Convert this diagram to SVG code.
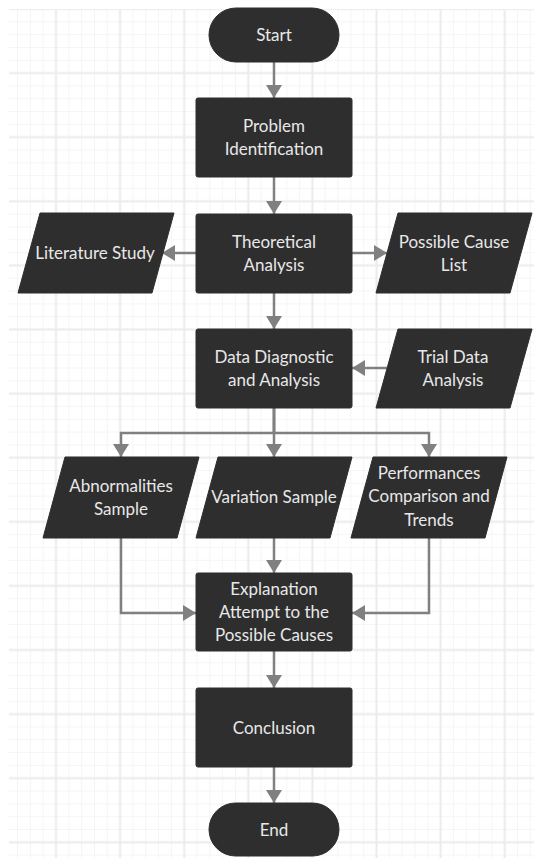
<svg xmlns="http://www.w3.org/2000/svg" width="534" height="858" viewBox="0 0 534 858">
<defs>
<pattern id="grid" patternUnits="userSpaceOnUse" x="23.95" y="-23.05" width="64.1" height="64.1">
<g stroke="#f5f5f5" stroke-width="1">
<line x1="6.41" y1="0" x2="6.41" y2="64.1"/><line x1="19.23" y1="0" x2="19.23" y2="64.1"/><line x1="44.87" y1="0" x2="44.87" y2="64.1"/><line x1="57.69" y1="0" x2="57.69" y2="64.1"/>
<line y1="6.41" x1="0" y2="6.41" x2="64.1"/><line y1="19.23" x1="0" y2="19.23" x2="64.1"/><line y1="44.87" x1="0" y2="44.87" x2="64.1"/><line y1="57.69" x1="0" y2="57.69" x2="64.1"/>
</g>
<g stroke="#ebebeb" stroke-width="2">
<line x1="32.05" y1="0" x2="32.05" y2="64.1"/><line y1="32.05" x1="0" y2="32.05" x2="64.1"/>
</g>
</pattern>
<marker id="arr" viewBox="0 0 13 16" refX="13" refY="8" markerWidth="13" markerHeight="16" markerUnits="userSpaceOnUse" orient="auto">
<path d="M0,0 L13,8 L0,16 z" fill="#808080"/>
</marker>
<style>
.n{fill:#2e2e2e;stroke:#2e2e2e;stroke-width:1;stroke-linejoin:round}
.t{fill:#e8e8e8;font-family:Lato,"Liberation Sans",sans-serif;font-size:17px;text-anchor:middle}
.c{fill:none;stroke:#808080;stroke-width:2.5;marker-end:url(#arr)}
</style>
</defs>
<rect x="0" y="0" width="534" height="858" fill="#ffffff"/>
<rect x="9" y="9" width="525" height="849" fill="url(#grid)"/>
<g id="connectors">
<path class="c" d="M274,62 V98"/>
<path class="c" d="M274,177 V214"/>
<path class="c" d="M197,253 H162"/>
<path class="c" d="M352,253 H387"/>
<path class="c" d="M274,293 V329"/>
<path class="c" d="M387,368 H352"/>
<path class="c" d="M274,408 V433 H121 V457"/>
<path class="c" d="M274,408 V457"/>
<path class="c" d="M274,408 V433 H429 V457"/>
<path class="c" d="M121,538 V613 H196"/>
<path class="c" d="M274,538 V573"/>
<path class="c" d="M429,538 V613 H352"/>
<path class="c" d="M274,651 V688"/>
<path class="c" d="M274,767 V803"/>
</g>
<g id="start"><rect class="n" x="209" y="8" width="130" height="54" rx="27"/><text class="t" x="274" y="41">Start</text></g>
<g id="problem"><rect class="n" x="196" y="98" width="156" height="79" rx="2"/><text class="t" x="274" y="132">Problem</text><text class="t" x="274" y="155">Identification</text></g>
<g id="theoretical"><rect class="n" x="196" y="214" width="156" height="79" rx="2"/><text class="t" x="274" y="248">Theoretical</text><text class="t" x="274" y="271">Analysis</text></g>
<g id="literature"><polygon class="n" points="40,213 174,213 152,293 18,293"/><text class="t" x="95" y="259">Literature Study</text></g>
<g id="possible"><polygon class="n" points="398,213 532,213 510,293 376,293"/><text class="t" x="454" y="248">Possible Cause</text><text class="t" x="454" y="271">List</text></g>
<g id="data"><rect class="n" x="196" y="329" width="156" height="79" rx="2"/><text class="t" x="274" y="363">Data Diagnostic</text><text class="t" x="274" y="386">and Analysis</text></g>
<g id="trial"><polygon class="n" points="398,329 532,329 510,408 376,408"/><text class="t" x="453" y="363">Trial Data</text><text class="t" x="453" y="386">Analysis</text></g>
<g id="abnormalities"><polygon class="n" points="65,457 199,457 177,538 43,538"/><text class="t" x="121" y="492">Abnormalities</text><text class="t" x="121" y="515">Sample</text></g>
<g id="variation"><polygon class="n" points="218,457 352,457 330,538 196,538"/><text class="t" x="274" y="503">Variation Sample</text></g>
<g id="performances"><polygon class="n" points="373,457 507,457 485,538 351,538"/><text class="t" x="429" y="479">Performances</text><text class="t" x="429" y="502">Comparison and</text><text class="t" x="429" y="526">Trends</text></g>
<g id="explanation"><rect class="n" x="196" y="573" width="156" height="78" rx="2"/><text class="t" x="274" y="595">Explanation</text><text class="t" x="274" y="618">Attempt to the</text><text class="t" x="274" y="641">Possible Causes</text></g>
<g id="conclusion"><rect class="n" x="196" y="688" width="156" height="79" rx="2"/><text class="t" x="274" y="734">Conclusion</text></g>
<g id="end"><rect class="n" x="209" y="803" width="130" height="53" rx="26.5"/><text class="t" x="274" y="836">End</text></g>
</svg>
